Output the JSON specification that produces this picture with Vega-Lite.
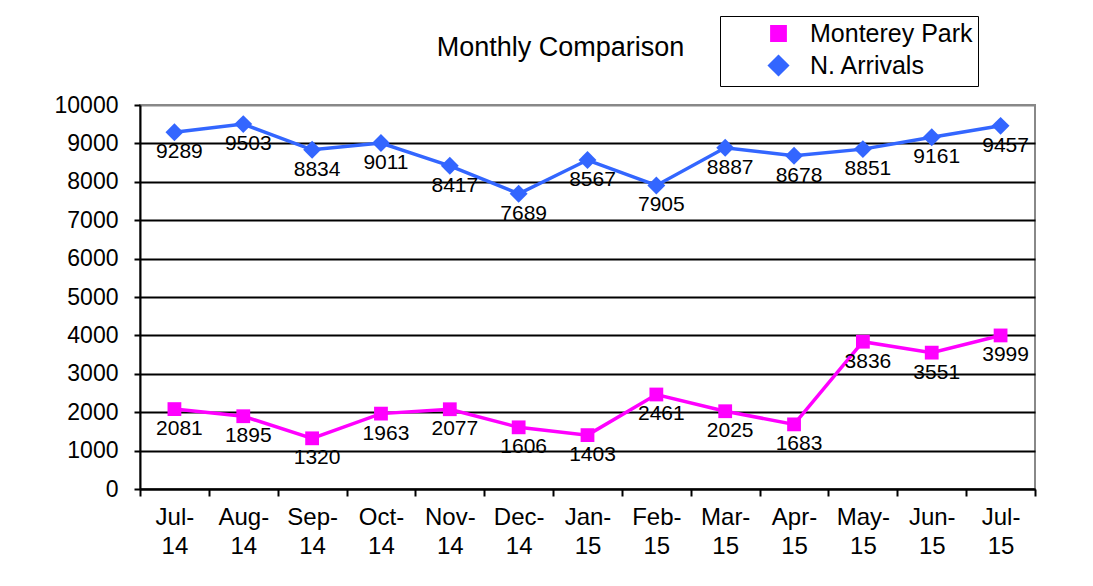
{
  "$schema": "https://vega.github.io/schema/vega-lite/v6.json",
  "width": 895,
  "height": 384,
  "autosize": {"type": "none"},
  "padding": {"left": 140, "top": 105, "right": 58, "bottom": 97},
  "background": "white",
  "title": {"text": "Monthly Comparison", "fontSize": 27, "font": "Liberation Sans", "fontWeight": "normal", "anchor": "middle", "dx": -27, "offset": 0, "dy": 46, "color": "black"},
  "config": {
    "view": {"stroke": "#888888", "strokeWidth": 2},
    "font": "Liberation Sans"
  },
  "data": {"values": [
    {"month": "Jul-14", "series": "Monterey Park", "value": 2081},
    {"month": "Aug-14", "series": "Monterey Park", "value": 1895},
    {"month": "Sep-14", "series": "Monterey Park", "value": 1320},
    {"month": "Oct-14", "series": "Monterey Park", "value": 1963},
    {"month": "Nov-14", "series": "Monterey Park", "value": 2077},
    {"month": "Dec-14", "series": "Monterey Park", "value": 1606},
    {"month": "Jan-15", "series": "Monterey Park", "value": 1403},
    {"month": "Feb-15", "series": "Monterey Park", "value": 2461},
    {"month": "Mar-15", "series": "Monterey Park", "value": 2025},
    {"month": "Apr-15", "series": "Monterey Park", "value": 1683},
    {"month": "May-15", "series": "Monterey Park", "value": 3836},
    {"month": "Jun-15", "series": "Monterey Park", "value": 3551},
    {"month": "Jul-15", "series": "Monterey Park", "value": 3999},
    {"month": "Jul-14", "series": "N. Arrivals", "value": 9289},
    {"month": "Aug-14", "series": "N. Arrivals", "value": 9503},
    {"month": "Sep-14", "series": "N. Arrivals", "value": 8834},
    {"month": "Oct-14", "series": "N. Arrivals", "value": 9011},
    {"month": "Nov-14", "series": "N. Arrivals", "value": 8417},
    {"month": "Dec-14", "series": "N. Arrivals", "value": 7689},
    {"month": "Jan-15", "series": "N. Arrivals", "value": 8567},
    {"month": "Feb-15", "series": "N. Arrivals", "value": 7905},
    {"month": "Mar-15", "series": "N. Arrivals", "value": 8887},
    {"month": "Apr-15", "series": "N. Arrivals", "value": 8678},
    {"month": "May-15", "series": "N. Arrivals", "value": 8851},
    {"month": "Jun-15", "series": "N. Arrivals", "value": 9161},
    {"month": "Jul-15", "series": "N. Arrivals", "value": 9457}
  ]},
  "encoding": {
    "x": {
      "field": "month", "type": "ordinal", "sort": null,
      "scale": {"type": "band", "paddingInner": 0, "paddingOuter": 0},
      "axis": {
        "title": null, "domainColor": "black", "domainWidth": 2,
        "tickColor": "black", "tickWidth": 2, "tickSize": 7, "tickBand": "extent",
        "labelFontSize": 24, "labelFont": "Liberation Sans", "labelColor": "black",
        "labelPadding": 9, "labelLineHeight": 29, "labelAngle": 0,
        "labelExpr": "[slice(datum.label,0,4), slice(datum.label,4)]"
      }
    },
    "y": {
      "field": "value", "type": "quantitative",
      "scale": {"domain": [0, 10000], "nice": false},
      "axis": {
        "title": null, "values": [0, 1000, 2000, 3000, 4000, 5000, 6000, 7000, 8000, 9000, 10000],
        "format": "d",
        "domainColor": "black", "domainWidth": 2,
        "tickColor": "black", "tickWidth": 2, "tickSize": 6,
        "labelFontSize": 23, "labelFont": "Liberation Sans", "labelColor": "black", "labelPadding": 16,
        "grid": true, "gridWidth": 2,
        "gridColor": {"condition": {"test": "datum.value === 10000", "value": "#888888"}, "value": "black"}
      }
    },
    "color": {
      "field": "series", "type": "nominal",
      "scale": {"domain": ["Monterey Park", "N. Arrivals"], "range": ["#FF00FF", "#3366FF"]},
      "legend": {
        "title": null, "orient": "none", "legendX": 580, "legendY": -89,
        "strokeColor": "black", "fillColor": "white", "padding": 5,
        "labelFontSize": 25, "labelFont": "Liberation Sans", "labelColor": "black",
        "labelOffset": 19, "symbolOffset": 41, "rowPadding": 3, "labelLimit": 400,
        "symbolSize": 3136, "symbolStrokeWidth": 3,
        "labelExpr": "datum.label + '\u00a0\u00a0\u00a0\u00a0\u00a0\u00a0'"
      }
    }
  },
  "layer": [
    {"mark": {"type": "line", "strokeWidth": 3.5}},
    {
      "mark": {"type": "point", "filled": true, "opacity": 1},
      "encoding": {
        "shape": {"field": "series", "type": "nominal", "scale": {"domain": ["Monterey Park", "N. Arrivals"], "range": ["square", "diamond"]}, "legend": null},
        "size": {"field": "series", "type": "nominal", "scale": {"domain": ["Monterey Park", "N. Arrivals"], "range": [190, 320]}, "legend": null}
      }
    },
    {
      "mark": {"type": "text", "dy": 20, "dx": 5, "fontSize": 21, "font": "Liberation Sans"},
      "encoding": {
        "text": {"field": "value", "type": "quantitative", "format": "d"},
        "color": {"value": "black"}
      }
    }
  ]
}
